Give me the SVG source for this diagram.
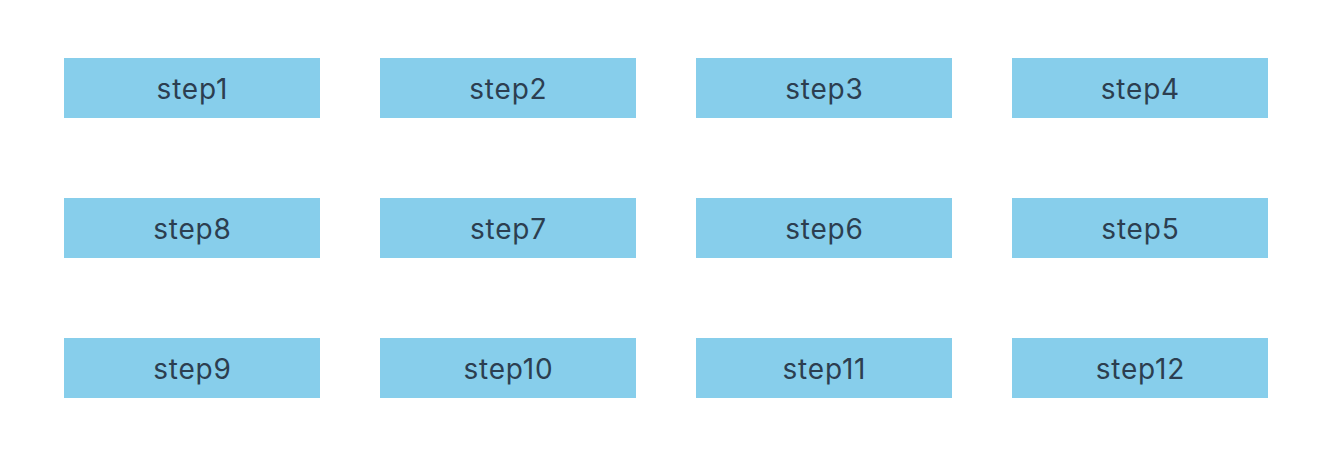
<svg xmlns="http://www.w3.org/2000/svg" width="1330" height="468" viewBox="0 0 1330 468">
<style>
.box{fill:#87CEEB;}
.lbl{font-family:Inter,"Noto Sans",sans-serif;font-size:28px;letter-spacing:0.8px;fill:#2c3e50;text-anchor:middle;dominant-baseline:central;}
</style>
<rect width="1330" height="468" fill="#ffffff"/>
<g id="connectors"></g>
<g id="step1"><rect class="box" x="64" y="58" width="256" height="60"/><text class="lbl" x="192.4" y="89">step1</text></g>
<g id="step2"><rect class="box" x="380" y="58" width="256" height="60"/><text class="lbl" x="508.4" y="89">step2</text></g>
<g id="step3"><rect class="box" x="696" y="58" width="256" height="60"/><text class="lbl" x="824.4" y="89">step3</text></g>
<g id="step4"><rect class="box" x="1012" y="58" width="256" height="60"/><text class="lbl" x="1140.4" y="89">step4</text></g>
<g id="step8"><rect class="box" x="64" y="198" width="256" height="60"/><text class="lbl" x="192.4" y="229">step8</text></g>
<g id="step7"><rect class="box" x="380" y="198" width="256" height="60"/><text class="lbl" x="508.4" y="229">step7</text></g>
<g id="step6"><rect class="box" x="696" y="198" width="256" height="60"/><text class="lbl" x="824.4" y="229">step6</text></g>
<g id="step5"><rect class="box" x="1012" y="198" width="256" height="60"/><text class="lbl" x="1140.4" y="229">step5</text></g>
<g id="step9"><rect class="box" x="64" y="338" width="256" height="60"/><text class="lbl" x="192.4" y="369">step9</text></g>
<g id="step10"><rect class="box" x="380" y="338" width="256" height="60"/><text class="lbl" x="508.4" y="369">step10</text></g>
<g id="step11"><rect class="box" x="696" y="338" width="256" height="60"/><text class="lbl" x="824.4" y="369">step11</text></g>
<g id="step12"><rect class="box" x="1012" y="338" width="256" height="60"/><text class="lbl" x="1140.4" y="369">step12</text></g>
</svg>
